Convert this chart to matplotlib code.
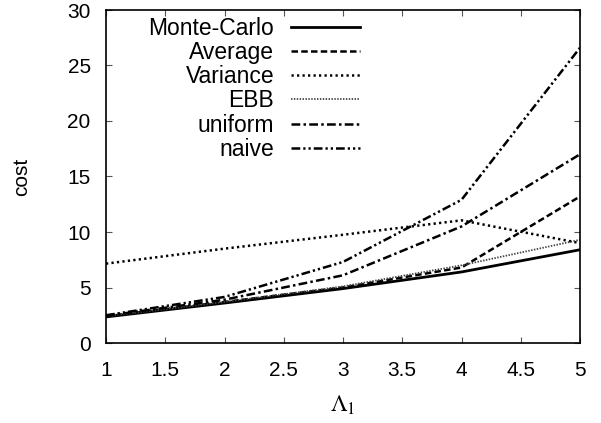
import matplotlib
matplotlib.use("Agg")
import matplotlib.pyplot as plt

plt.rcParams['font.family'] = ['Liberation Sans', 'DejaVu Sans']
plt.rcParams['mathtext.fontset'] = 'stix'

lam = [1, 2, 3, 4, 5]
monte_carlo = [2.35, 3.6, 4.9, 6.4, 8.4]
average = [2.4, 3.7, 5.0, 6.8, 13.2]
variance = [7.15, 8.5, 9.75, 11.05, 9.0]
ebb = [2.4, 3.7, 5.1, 7.0, 9.3]
uniform = [2.45, 3.9, 6.1, 10.5, 17.0]
naive = [2.5, 4.15, 7.3, 12.9, 26.6]

labels = ["Monte-Carlo", "Average", "Variance", "EBB", "uniform", "naive"]
xticks = [1, 1.5, 2, 2.5, 3, 3.5, 4, 4.5, 5]
yticks = [0, 5, 10, 15, 20, 25, 30]

fig = plt.figure(figsize=(6.01, 4.23), dpi=100)
ax = fig.add_axes([106 / 601, 80 / 423, 474 / 601, 333 / 423])

ax.plot(lam, monte_carlo, color='black', lw=2.0, linestyle='-', label=labels[0])
ax.plot(lam, average, color='black', lw=1.8, linestyle=(0, (2.6, 1.3)), label=labels[1])
ax.plot(lam, variance, color='black', lw=1.8, linestyle=(0, (0.9, 1.3)), label=labels[2])
ax.plot(lam, ebb, color='#444444', lw=1.3, linestyle=(0, (0.8, 0.8)), label=labels[3])
ax.plot(lam, uniform, color='black', lw=1.8, linestyle=(0, (3.5, 1.3, 1, 1.3)), label=labels[4])
ax.plot(lam, naive, color='black', lw=1.8, linestyle=(0, (3.5, 1.2, 0.9, 1.2, 0.9, 1.2)), label=labels[5])

ax.set_xlim(1, 5)
ax.set_ylim(0, 30)
ax.set_xticks(xticks)
ax.set_xticklabels([f"{t:g}" for t in xticks])
ax.set_yticks(yticks)

# ticks inward on all sides, like gnuplot
ax.tick_params(direction='in', length=4, width=0.8, color='#555555',
               top=True, right=True, labelsize=15)
ax.tick_params(axis='x', pad=13)
ax.tick_params(axis='y', pad=11)
for s in ax.spines.values():
    s.set_linewidth(1.2)

ax.set_xlabel(r'$\Lambda_1$', fontsize=17, labelpad=10)
ax.set_ylabel('cost', fontsize=15, labelpad=26)

ax.legend(loc='upper right', bbox_to_anchor=(360 / 601, 1 - 17 / 423),
          bbox_transform=fig.transFigure, frameon=False, markerfirst=False,
          fontsize=16.5, handlelength=3.0, handletextpad=0.75,
          labelspacing=0.05, borderpad=0, borderaxespad=0)

fig.savefig("out.png", dpi=100)
